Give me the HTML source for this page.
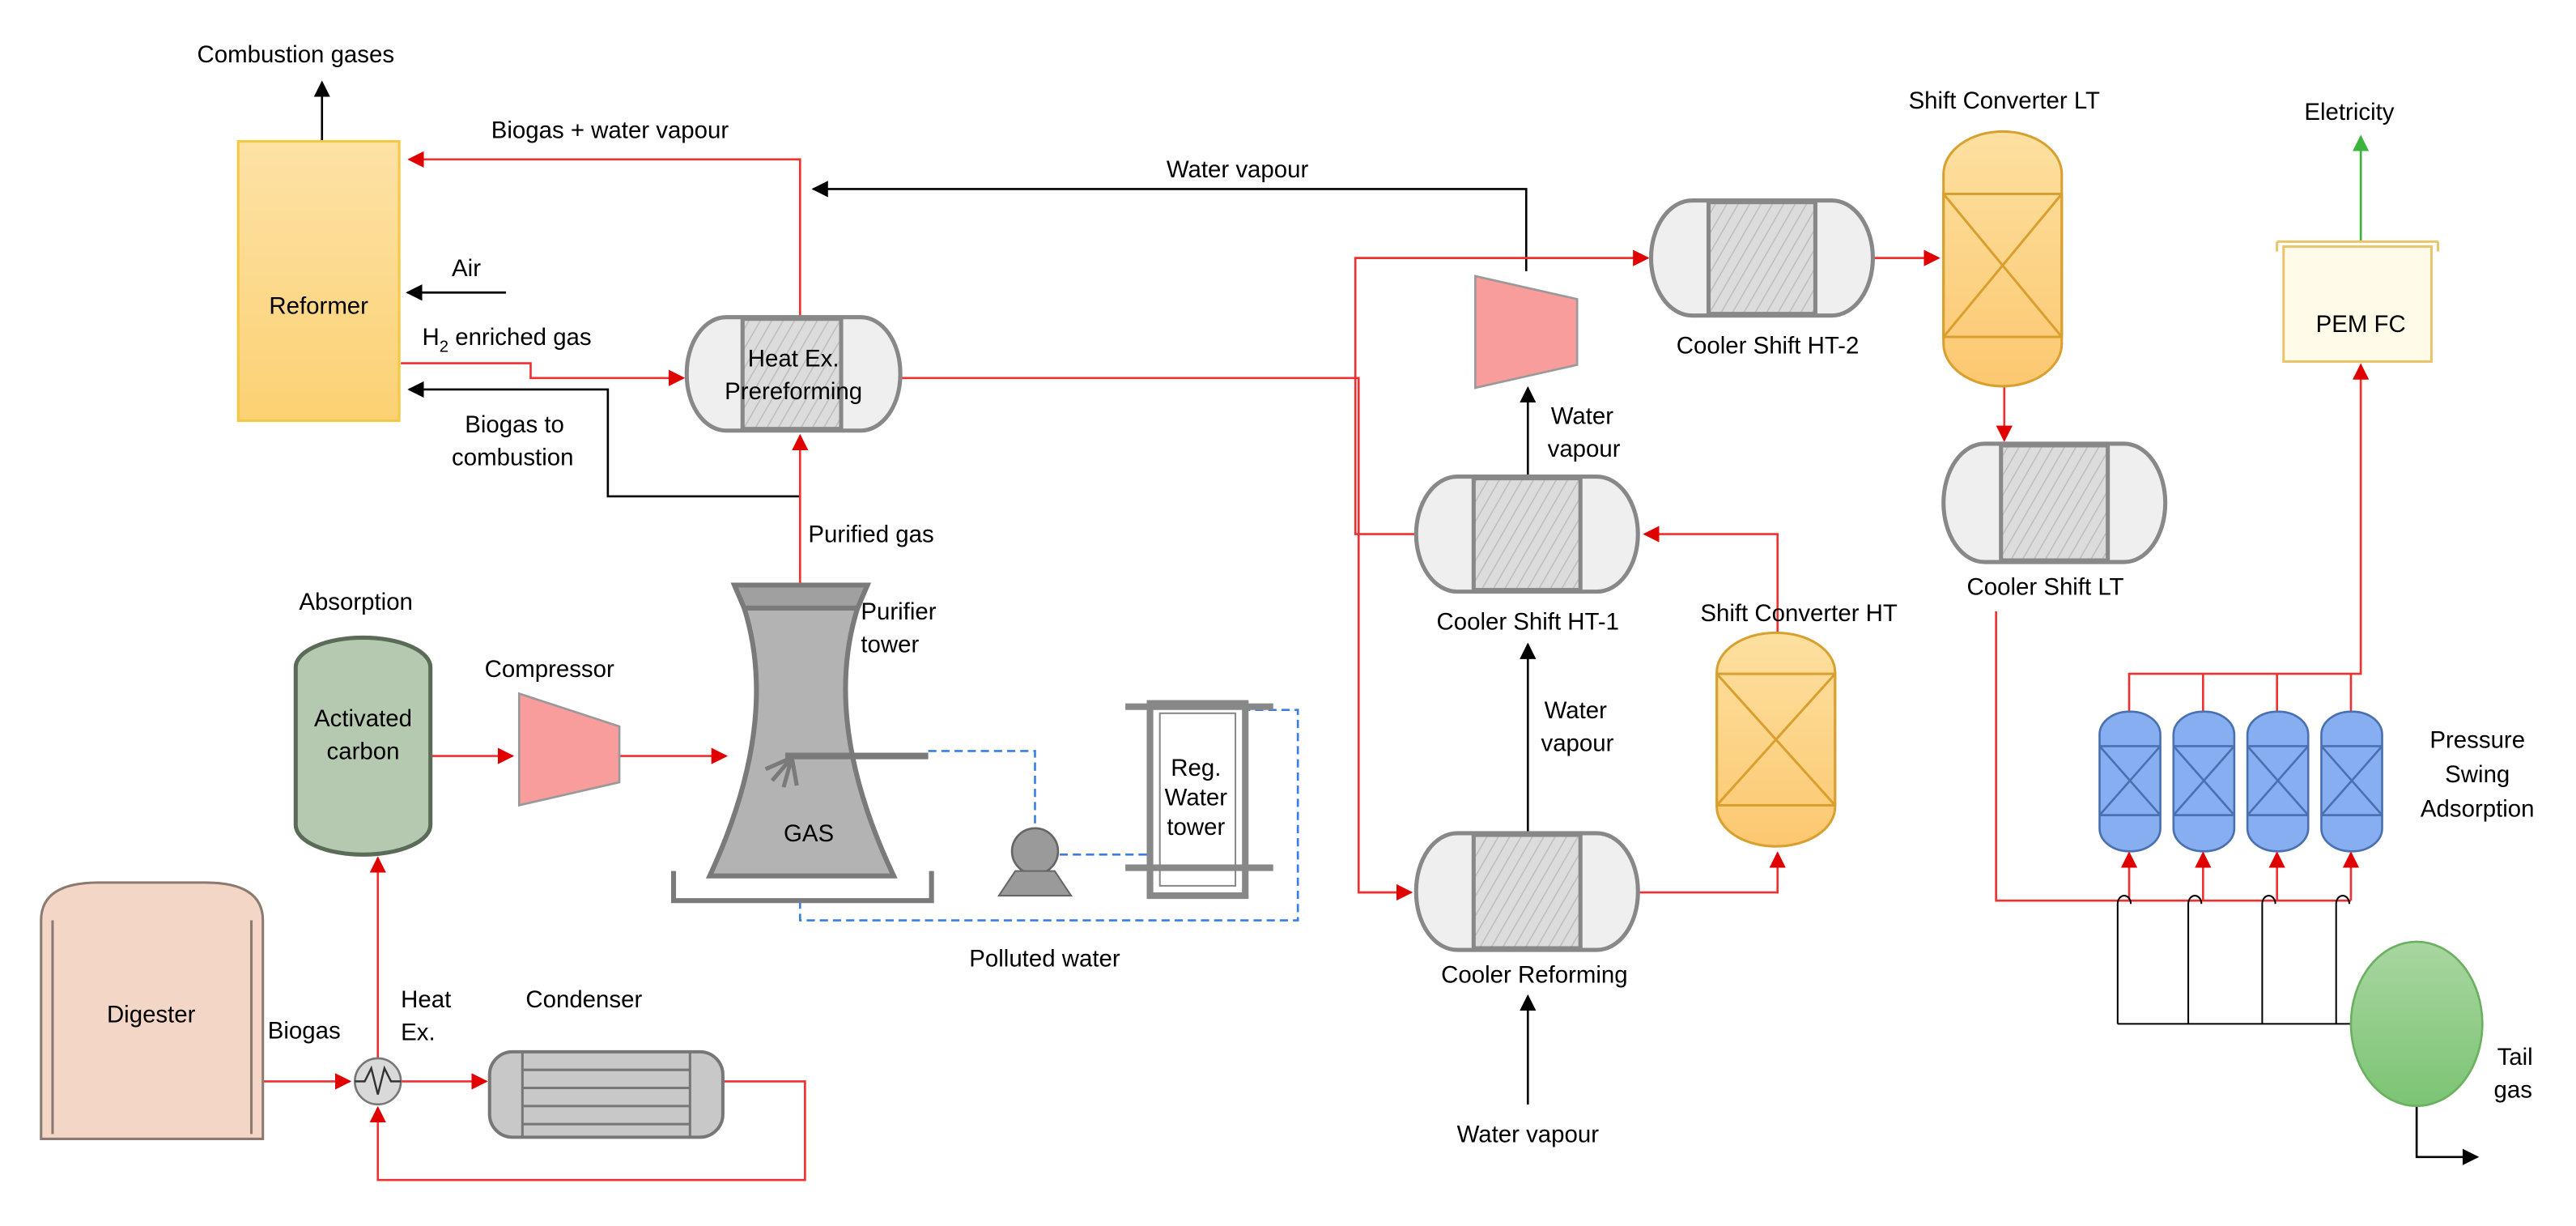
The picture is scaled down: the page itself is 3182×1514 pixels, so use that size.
<!DOCTYPE html>
<html><head><meta charset="utf-8"><style>
html,body{margin:0;padding:0;background:#fff;}
svg{display:block;}
text{font-family:"Liberation Sans",Arial,sans-serif;font-size:14.5px;fill:#000;}
</style></head><body>
<svg width="3182" height="1514" viewBox="0 0 1568 746" preserveAspectRatio="none" xmlns="http://www.w3.org/2000/svg">
<defs>
<marker id="ar" markerWidth="10" markerHeight="10" refX="9" refY="5" orient="auto" markerUnits="userSpaceOnUse"><path d="M0,0 L10,5 L0,10 Z" fill="#e00000"/></marker>
<marker id="ab" markerWidth="10" markerHeight="10" refX="9" refY="5" orient="auto" markerUnits="userSpaceOnUse"><path d="M0,0 L10,5 L0,10 Z" fill="#000"/></marker>
<marker id="ag" markerWidth="10" markerHeight="10" refX="9" refY="5" orient="auto" markerUnits="userSpaceOnUse"><path d="M0,0 L10,5 L0,10 Z" fill="#3cb43c"/></marker>
<linearGradient id="gy" x1="0" y1="0" x2="0" y2="1"><stop offset="0" stop-color="#fde2a6"/><stop offset="1" stop-color="#fcd173"/></linearGradient>
<linearGradient id="go" x1="0" y1="0" x2="0" y2="1"><stop offset="0" stop-color="#fde0a0"/><stop offset="1" stop-color="#fcc870"/></linearGradient>
<linearGradient id="gg" x1="0" y1="0" x2="0" y2="1"><stop offset="0" stop-color="#a8d6a0"/><stop offset="1" stop-color="#7cc474"/></linearGradient>
<pattern id="hatch" width="6" height="6" patternUnits="userSpaceOnUse" patternTransform="rotate(30)"><rect width="6" height="6" fill="#dcdcdc"/><line x1="0" y1="0" x2="0" y2="6" stroke="#bdbdbd" stroke-width="1.5"/></pattern>
</defs>

<g fill="none" stroke-width="1.3">
<line x1="196" y1="86" x2="196" y2="50" stroke="#000" marker-end="url(#ab)"/>
<polyline points="487,210 487,97 249,97" stroke="#f03030" marker-end="url(#ar)"/>
<polyline points="929,165 929,115 495,115" stroke="#000" marker-end="url(#ab)"/>
<line x1="308" y1="178" x2="248" y2="178" stroke="#000" marker-end="url(#ab)"/>
<polyline points="244,221 323,221 323,230 416,230" stroke="#f03030" marker-end="url(#ar)"/>
<polyline points="487,302 370,302 370,237 249,237" stroke="#000" marker-end="url(#ab)"/>
<polyline points="549,230 827,230 827,543 858,543" stroke="#f03030"/>
<line x1="827" y1="543" x2="859" y2="543" stroke="#f03030" marker-end="url(#ar)"/>
<line x1="487" y1="355" x2="487" y2="265" stroke="#f03030" marker-end="url(#ar)"/>
<line x1="262" y1="460" x2="312" y2="460" stroke="#f03030" marker-end="url(#ar)"/>
<line x1="377" y1="460" x2="442" y2="460" stroke="#f03030" marker-end="url(#ar)"/>
<line x1="160" y1="658" x2="213" y2="658" stroke="#f03030" marker-end="url(#ar)"/>
<line x1="230" y1="644" x2="230" y2="522" stroke="#f03030" marker-end="url(#ar)"/>
<line x1="244" y1="658" x2="296" y2="658" stroke="#f03030" marker-end="url(#ar)"/>
<polyline points="440,658 490,658 490,718 230,718 230,674" stroke="#f03030" marker-end="url(#ar)"/>
<polyline points="565,457 630,457 630,505" stroke="#3a7fe0" stroke-dasharray="5,3"/>
<line x1="645" y1="520" x2="700" y2="520" stroke="#3a7fe0" stroke-dasharray="5,3"/>
<polyline points="487,548 487,560 790,560 790,432 760,432" stroke="#3a7fe0" stroke-dasharray="5,3"/>
<line x1="930" y1="672" x2="930" y2="606" stroke="#000" marker-end="url(#ab)"/>
<line x1="930" y1="507" x2="930" y2="392" stroke="#000" marker-end="url(#ab)"/>
<line x1="930" y1="290" x2="930" y2="236" stroke="#000" marker-end="url(#ab)"/>
<polyline points="997,543 1082,543 1082,519" stroke="#f03030" marker-end="url(#ar)"/>
<polyline points="1082,385 1082,325 1001,325" stroke="#f03030" marker-end="url(#ar)"/>
<polyline points="862,325 825,325 825,157 1003,157" stroke="#f03030" marker-end="url(#ar)"/>
<line x1="1140" y1="157" x2="1180" y2="157" stroke="#f03030" marker-end="url(#ar)"/>
<line x1="1220" y1="235" x2="1220" y2="268" stroke="#f03030" marker-end="url(#ar)"/>
<polyline points="1215,372 1215,548 1431,548" stroke="#f03030"/>
<line x1="1296" y1="548" x2="1296" y2="519" stroke="#f03030" marker-end="url(#ar)"/>
<line x1="1341" y1="548" x2="1341" y2="519" stroke="#f03030" marker-end="url(#ar)"/>
<line x1="1386" y1="548" x2="1386" y2="519" stroke="#f03030" marker-end="url(#ar)"/>
<line x1="1431" y1="548" x2="1431" y2="519" stroke="#f03030" marker-end="url(#ar)"/>
<polyline points="1296,433 1296,410 1437,410 1437,222" stroke="#f03030" marker-end="url(#ar)"/>
<line x1="1341" y1="410" x2="1341" y2="433" stroke="#f03030"/>
<line x1="1386" y1="410" x2="1386" y2="433" stroke="#f03030"/>
<line x1="1431" y1="410" x2="1431" y2="433" stroke="#f03030"/>
<g stroke="#000" stroke-width="1">
<path d="M1289,623 L1289,550 A4,5 0 0 1 1297,550"/>
<path d="M1332,623 L1332,550 A4,5 0 0 1 1340,550"/>
<path d="M1377,623 L1377,550 A4,5 0 0 1 1385,550"/>
<path d="M1422,623 L1422,550 A4,5 0 0 1 1430,550"/>
<line x1="1289" y1="623" x2="1432" y2="623"/>
</g>
<polyline points="1471,673 1471,704 1508,704" stroke="#000" marker-end="url(#ab)"/>
<line x1="1437" y1="147" x2="1437" y2="83" stroke="#3cb43c" marker-end="url(#ag)"/>
</g>

<rect x="145" y="86" width="98" height="170" fill="url(#gy)" stroke="#f5c842" stroke-width="1.5"/>
<g stroke="#888" stroke-width="2.5">
<rect x="418" y="193" width="130" height="69" rx="24" ry="34" fill="#efefef"/>
<rect x="452" y="194" width="60" height="67" fill="url(#hatch)"/>
<rect x="862" y="507" width="135" height="71" rx="25" ry="35" fill="#efefef"/>
<rect x="897" y="508" width="65" height="69" fill="url(#hatch)"/>
<rect x="862" y="290" width="135" height="70" rx="25" ry="35" fill="#efefef"/>
<rect x="897" y="291" width="65" height="68" fill="url(#hatch)"/>
<rect x="1005" y="122" width="135" height="70" rx="25" ry="35" fill="#efefef"/>
<rect x="1040" y="123" width="65" height="68" fill="url(#hatch)"/>
<rect x="1183" y="270" width="135" height="72" rx="25" ry="36" fill="#efefef"/>
<rect x="1218" y="271" width="65" height="70" fill="url(#hatch)"/>
</g>
<g stroke="#d9a030" stroke-width="1.5">
<rect x="1045" y="385" width="72" height="130" rx="36" ry="24" fill="url(#go)"/>
<rect x="1045" y="410" width="72" height="80" fill="none"/>
<path d="M1045,410 L1117,490 M1117,410 L1045,490" fill="none"/>
<rect x="1183" y="80" width="72" height="155" rx="36" ry="26" fill="url(#go)"/>
<rect x="1183" y="118" width="72" height="87" fill="none"/>
<path d="M1183,118 L1255,205 M1255,118 L1183,205" fill="none"/>
</g>
<g stroke="#4a70b0" stroke-width="1.3" fill="#86aef0">
<rect x="1278" y="433" width="37" height="85" rx="18" ry="14"/>
<rect x="1323" y="433" width="37" height="85" rx="18" ry="14"/>
<rect x="1368" y="433" width="37" height="85" rx="18" ry="14"/>
<rect x="1413" y="433" width="37" height="85" rx="18" ry="14"/>
<path fill="none" d="M1278,454 H1315 M1278,496 H1315 M1278,454 L1315,496 M1315,454 L1278,496
M1323,454 H1360 M1323,496 H1360 M1323,454 L1360,496 M1360,454 L1323,496
M1368,454 H1405 M1368,496 H1405 M1368,454 L1405,496 M1405,454 L1368,496
M1413,454 H1450 M1413,496 H1450 M1413,454 L1450,496 M1450,454 L1413,496"/>
</g>
<ellipse cx="1471" cy="623" rx="40" ry="50" fill="url(#gg)" stroke="#6ab060" stroke-width="1.3"/>
<rect x="1390" y="150" width="90" height="70" fill="#fffbe8" stroke="#e8c56a" stroke-width="1.5"/>
<path d="M1386,147 H1484 M1386,147 V153 M1484,147 V153" stroke="#e8c56a" stroke-width="1.5" fill="none"/>
<path d="M898,168 L960,182 L960,222 L898,236 Z" fill="#f99c9c" stroke="#999" stroke-width="1.3"/>
<path d="M316,422 L377,442 L377,476 L316,490 Z" fill="#f99c9c" stroke="#999" stroke-width="1.3"/>
<rect x="180" y="388" width="82" height="132" rx="41" ry="18" fill="#b5c9b0" stroke="#5a6b58" stroke-width="2.5"/>
<path d="M25,693 L25,560 Q25,537 60,537 L125,537 Q160,537 160,560 L160,693 Z" fill="#f3d6c5" stroke="#8a7a70" stroke-width="1.5"/>
<path d="M32,560 V690 M153,560 V690" stroke="#8a7a70" stroke-width="1.5"/>
<circle cx="230" cy="658" r="14" fill="#d9d9d9" stroke="#777" stroke-width="1.3"/>
<polyline points="216,658 222,658 226,650 230,666 234,650 238,658 244,658" fill="none" stroke="#333" stroke-width="1.2"/>
<rect x="298" y="640" width="142" height="52" rx="14" fill="#c8c8c8" stroke="#777" stroke-width="2"/>
<path d="M318,640 V692 M420,640 V692 M318,651 H420 M318,662 H420 M318,673 H420 M318,684 H420" stroke="#777" stroke-width="1.5" fill="none"/>
<path d="M453,370 Q475,440 432,533 L544,533 Q500,440 522,370 Z" fill="#b3b3b3" stroke="#7a7a7a" stroke-width="3"/>
<path d="M447,356 L528,356 L522,370 L453,370 Z" fill="#a0a0a0" stroke="#7a7a7a" stroke-width="3"/>
<path d="M410,530 V548 H567 V530" fill="none" stroke="#7a7a7a" stroke-width="3"/>
<path d="M478,460 H565" stroke="#7a7a7a" stroke-width="4"/>
<path d="M482,461 L466,468 M482,461 L470,475 M482,461 L477,479 M482,461 L485,478" stroke="#7a7a7a" stroke-width="2.5"/>
<circle cx="630" cy="518" r="14" fill="#9a9a9a" stroke="#666" stroke-width="1.3"/>
<path d="M608,545 L618,530 L642,530 L652,545 Z" fill="#9a9a9a" stroke="#666" stroke-width="1"/>
<rect x="700" y="428" width="58" height="117" fill="#fff" stroke="#888" stroke-width="4"/>
<rect x="706" y="434" width="46" height="105" fill="#fff" stroke="#888" stroke-width="1"/>
<path d="M685,430 H775 M685,528 H775" stroke="#888" stroke-width="4"/>

<text x="120" y="38">Combustion gases</text>
<text x="299" y="84">Biogas + water vapour</text>
<text x="710" y="108">Water vapour</text>
<text x="275" y="168">Air</text>
<text x="194" y="191" text-anchor="middle">Reformer</text>
<text x="257" y="210">H<tspan font-size="10" dy="4">2</tspan><tspan dy="-4"> enriched gas</tspan></text>
<text x="283" y="263">Biogas to</text>
<text x="275" y="283">combustion</text>
<text x="483" y="223" text-anchor="middle">Heat Ex.</text>
<text x="483" y="243" text-anchor="middle">Prereforming</text>
<text x="492" y="330">Purified gas</text>
<text x="182" y="371">Absorption</text>
<text x="295" y="412">Compressor</text>
<text x="221" y="442" text-anchor="middle">Activated</text>
<text x="221" y="462" text-anchor="middle">carbon</text>
<text x="524" y="377">Purifier</text>
<text x="524" y="397">tower</text>
<text x="477" y="512">GAS</text>
<text x="728" y="472" text-anchor="middle">Reg.</text>
<text x="728" y="490" text-anchor="middle">Water</text>
<text x="728" y="508" text-anchor="middle">tower</text>
<text x="590" y="588">Polluted water</text>
<text x="92" y="622" text-anchor="middle">Digester</text>
<text x="163" y="632">Biogas</text>
<text x="244" y="613">Heat</text>
<text x="244" y="633">Ex.</text>
<text x="320" y="613">Condenser</text>
<text x="944" y="258">Water</text>
<text x="942" y="278">vapour</text>
<text x="930" y="383" text-anchor="middle">Cooler Shift HT-1</text>
<text x="940" y="437">Water</text>
<text x="938" y="457">vapour</text>
<text x="1095" y="378" text-anchor="middle">Shift Converter HT</text>
<text x="934" y="598" text-anchor="middle">Cooler Reforming</text>
<text x="930" y="695" text-anchor="middle">Water vapour</text>
<text x="1076" y="215" text-anchor="middle">Cooler Shift HT-2</text>
<text x="1220" y="66" text-anchor="middle">Shift Converter LT</text>
<text x="1245" y="362" text-anchor="middle">Cooler Shift LT</text>
<text x="1430" y="73" text-anchor="middle">Eletricity</text>
<text x="1437" y="202" text-anchor="middle">PEM FC</text>
<text x="1508" y="455" text-anchor="middle">Pressure</text>
<text x="1508" y="476" text-anchor="middle">Swing</text>
<text x="1508" y="497" text-anchor="middle">Adsorption</text>
<text x="1520" y="648">Tail</text>
<text x="1518" y="668">gas</text>
</svg>
</body></html>
